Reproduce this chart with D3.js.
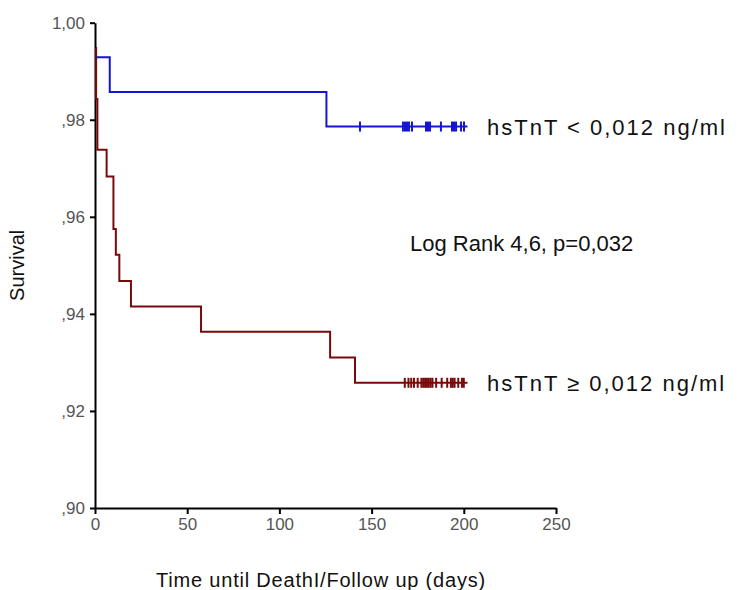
<!DOCTYPE html>
<html>
<head>
<meta charset="utf-8">
<script src="https://cdn.jsdelivr.net/npm/d3@7"></script>
<style>
  body { margin: 0; background: #fff; }
  text { font-family: "Liberation Sans", Arial, sans-serif; }
</style>
</head>
<body>
<svg id="chart"></svg>
<script>
// step curves: time (days) at which survival becomes the given value
const blueTime = [0.8, 8, 125.5]
const blueSurv = [0.9929, 0.9857, 0.9786]
const blueCensor = [143.7, 167, 168.1, 169.2, 170.3, 171.9, 179.5, 180.6, 181.7, 187.6, 193.6, 194.7, 195.8, 198.5, 200.1]

const redTime = [0.4, 0.6, 1.3, 6.3, 10, 11.3, 13.2, 19.5, 57.5, 127.5, 141]
const redSurv = [0.9948, 0.9843, 0.9738, 0.9683, 0.9575, 0.9522, 0.9468, 0.9415, 0.9363, 0.9310, 0.9258]
const redCensor = [168, 170, 171.5, 173, 175, 177, 178, 179, 180, 181, 182, 183, 185, 188, 191, 193, 194, 195, 197, 199, 200]

const endTime = 202

const yTicks = [0.90, 0.92, 0.94, 0.96, 0.98, 1.00]
const yTickLabels = [",90", ",92", ",94", ",96", ",98", "1,00"]
const xTicks = [0, 50, 100, 150, 200, 250]

var width = 746, height = 590
var margin = {left: 95, right: 190, top: 22.7, bottom: 82}

const svg = d3.select("#chart").attr("width", width).attr("height", height)

const x = d3.scaleLinear().domain([0, 250]).range([margin.left, width - margin.right])
const y = d3.scaleLinear().domain([0.90, 1.00]).range([height - margin.bottom, margin.top])

// axes
const xAxis = svg.append("g")
  .attr("transform", "translate(0," + y(0.90) + ")")
  .call(d3.axisBottom(x).tickValues(xTicks).tickSize(6).tickSizeOuter(0).tickPadding(4))
const yAxis = svg.append("g")
  .attr("transform", "translate(" + x(0) + ",0)")
  .call(d3.axisLeft(y).tickValues(yTicks).tickFormat((d, i) => yTickLabels[i]).tickSize(5).tickSizeOuter(0).tickPadding(5))

;[xAxis, yAxis].forEach(function (a) {
  a.select(".domain").attr("stroke", "#000").attr("stroke-width", 2)
  a.selectAll(".tick line").attr("stroke", "#000").attr("stroke-width", 2)
  a.selectAll(".tick text").attr("fill", "#555").style("font-size", "17px")
})

// build the KM step path
function stepLine(times, surv) {
  const pts = []
  times.forEach(function (t, i) {
    if (i > 0) pts.push([t, surv[i - 1]])
    pts.push([t, surv[i]])
  })
  pts.push([endTime, surv[surv.length - 1]])
  return d3.line().x(d => x(d[0])).y(d => y(d[1]))(pts)
}

const groups = [
  {time: redTime, surv: redSurv, censor: redCensor, color: "#7a0a0a"},
  {time: blueTime, surv: blueSurv, censor: blueCensor, color: "#1414d2"}
]

groups.forEach(function (g) {
  svg.append("path")
    .attr("d", stepLine(g.time, g.surv))
    .attr("fill", "none")
    .attr("stroke", g.color)
    .attr("stroke-width", 2)
  const last = g.surv[g.surv.length - 1]
  svg.selectAll(null)
    .data(g.censor)
    .enter().append("line")
    .attr("x1", d => x(d)).attr("x2", d => x(d))
    .attr("y1", y(last) - 5).attr("y2", y(last) + 5)
    .attr("stroke", g.color)
    .attr("stroke-width", 2)
})

// annotations
svg.append("text").attr("x", 487).attr("y", y(blueSurv[2]) + 8)
  .style("font-size", "22px").style("letter-spacing", "2px").attr("fill", "#111").text("hsTnT < 0,012 ng/ml")
svg.append("text").attr("x", 487).attr("y", y(redSurv[redSurv.length - 1]) + 8)
  .style("font-size", "22px").style("letter-spacing", "2px").attr("fill", "#111").text("hsTnT \u2265 0,012 ng/ml")
svg.append("text").attr("x", 410).attr("y", 251)
  .style("font-size", "22px").attr("fill", "#111").text("Log Rank 4,6, p=0,032")

svg.append("text")
  .attr("transform", "translate(24," + ((margin.top + height - margin.bottom) / 2) + ") rotate(-90)")
  .attr("text-anchor", "middle")
  .style("font-size", "20px").attr("fill", "#111").text("Survival")

svg.append("text")
  .attr("x", 321).attr("y", 587)
  .attr("text-anchor", "middle")
  .style("font-size", "20px").style("letter-spacing", "0.8px").attr("fill", "#111")
  .text("Time until DeathI/Follow up (days)")
</script>
</body>
</html>
